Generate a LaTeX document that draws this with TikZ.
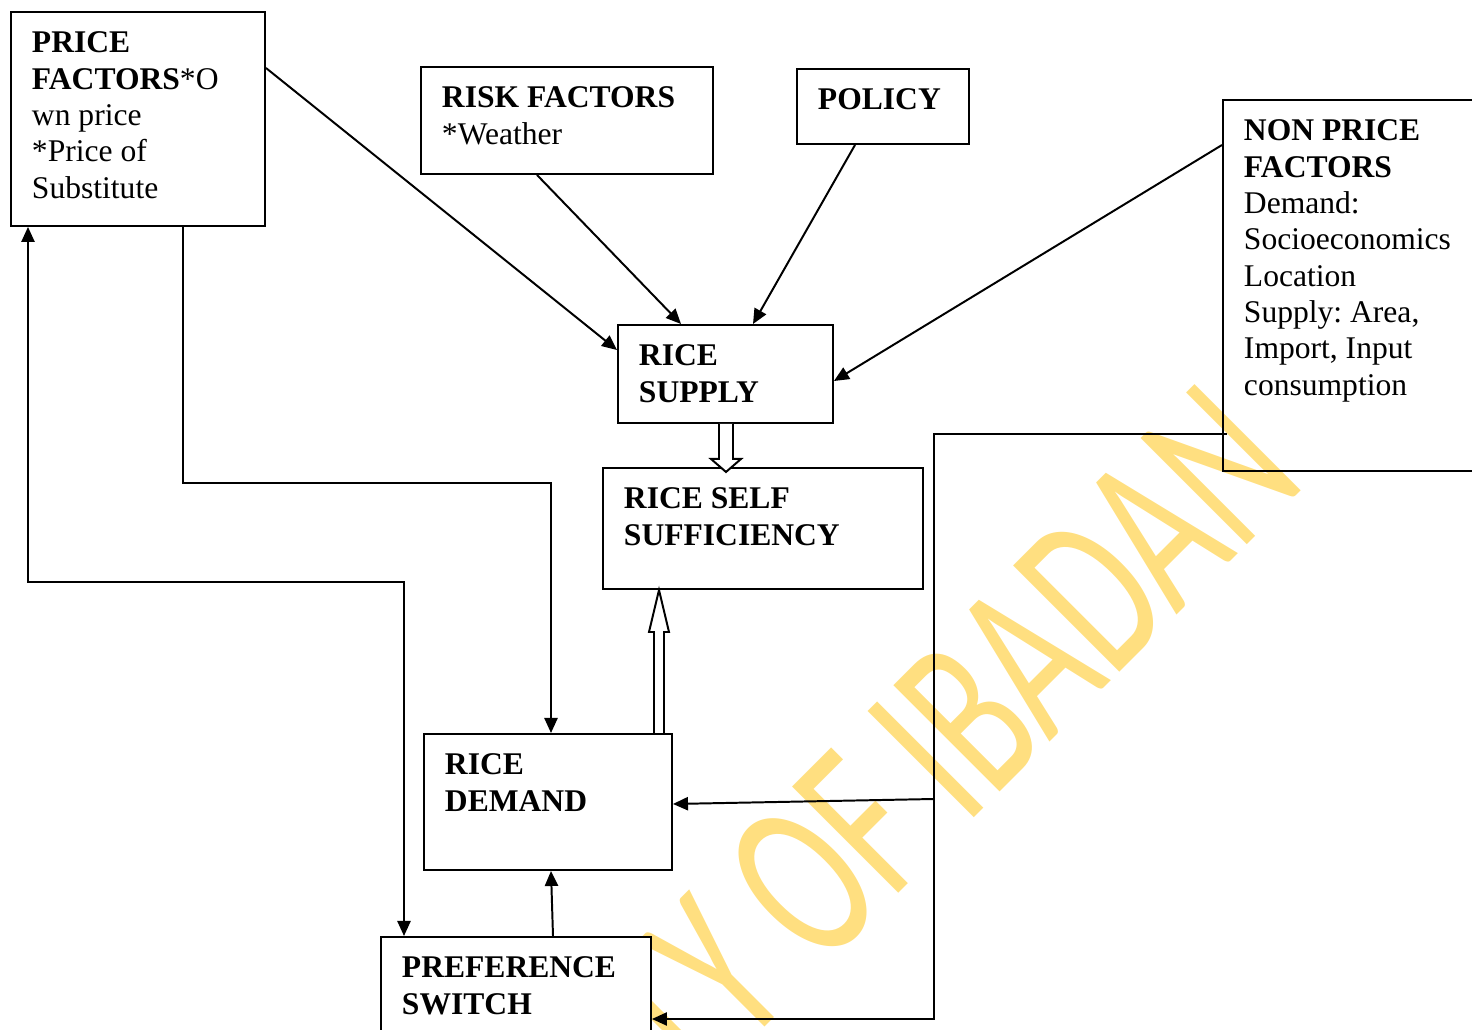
\documentclass[tikz,border=0pt]{standalone}
\usepackage{fontspec}
\setmainfont{Liberation Serif}
\newfontfamily\wmfont{Carlito}
\usepackage{tikz}
\usetikzlibrary{arrows.meta,calc}
\definecolor{wmYellow}{HTML}{FFDF80}
\newdimen\pxu \pxu=0.38pt
\frenchspacing
% box text: height, width, lines
\newcommand\boxtext[3]{\parbox[c][#1\pxu][t]{#2\pxu}{\raggedright\leftskip=21\pxu\rule{0pt}{41\pxu}#3}}
\tikzset{
  ricebox/.style={draw, line width=0.75pt, anchor=north west, inner sep=0pt,
                  font=\fontsize{12}{13.8}\selectfont},
  flowarr/.style={-{Triangle[length=5.7pt,width=5pt]}, line width=0.75pt},
  blockarr/.style={draw, line width=0.75pt, fill=white, line join=miter},
}
\begin{document}
\begin{tikzpicture}[x=0.38pt, y=-0.38pt]
  \clip (0,0) rectangle (1472,1030);
  % watermark
  \node[rotate=45, anchor=base east, inner sep=0pt, text=wmYellow,
        font=\wmfont\fontsize{89}{89}\selectfont] (wm) at (1309,483)
        {\scalebox{0.65}[1]{UNIVERSITY OF IBADAN}};

  \node[ricebox] (price) at (10,11)
    {\boxtext{214}{254}{\textbf{PRICE}\\\textbf{FACTORS}*O\\wn price\\{}*Price of\\Substitute}};
  \node[ricebox] (risk) at (420,66) {\boxtext{107}{292}{\textbf{RISK FACTORS}\\{}*Weather}};
  \node[ricebox] (policy) at (796,68) {\boxtext{75}{172}{\textbf{POLICY}}};
  \node[ricebox] (nonprice) at (1222,99)
    {\boxtext{371}{280}{\textbf{NON PRICE}\\\textbf{FACTORS}\\Demand:\\Socioeconomics\\Location\\Supply: Area,\\Import, Input\\consumption}};
  \node[ricebox] (supply) at (617,324) {\boxtext{98}{215}{\textbf{RICE}\\\textbf{SUPPLY}}};
  \node[ricebox] (selfsuff) at (602,467) {\boxtext{121}{320}{\textbf{RICE SELF}\\\textbf{SUFFICIENCY}}};
  \node[ricebox] (demand) at (423,733) {\boxtext{136}{248}{\textbf{RICE}\\\textbf{DEMAND}}};
  \node[ricebox, fill=white] (pref) at (380,936) {\boxtext{130}{270}{\textbf{PREFERENCE}\\\textbf{SWITCH}}};
  \coordinate (trunk) at (934,799);

  % factors into supply
  \draw[flowarr] ($(price.north east)+(0,57)$) -- ($(supply.north west)+(0,26)$);
  \draw[flowarr] ($(risk.south west)+(117,0)$) -- ($(supply.north west)+(64,0)$);
  \draw[flowarr] ($(policy.south west)+(59,0)$) -- ($(supply.north west)+(136,0)$);
  \draw[flowarr] ($(nonprice.north west)+(0,46)$) -- ($(supply.north east)+(0,57)$);

  % block arrows into self sufficiency
  \draw[blockarr] ([shift={(102,0)}]supply.south west) -- ++(0,35) -- ++(-8,0)
    -- ++(15,13) -- ++(15,-13) -- ++(-8,0) -- ++(0,-35);
  \draw[blockarr] ([shift={(231,0)}]demand.north west) -- ++(0,-101) -- ++(-5,0)
    -- ++(10,-42) -- ++(10,42) -- ++(-5,0) -- ++(0,101);

  % price factors loops
  \draw[flowarr] ($(price.south west)+(173,0)$) -- ++(0,256) -| ($(demand.north west)+(128,0)$);
  \draw[flowarr, {Triangle[length=5.7pt,width=5pt]}-{Triangle[length=5.7pt,width=5pt]}]
    ($(price.south west)+(18,0)$) -- ++(0,355) -| ($(pref.north west)+(24,0)$);
  \draw[flowarr] ($(pref.north west)+(173,0)$) -- ($(demand.south west)+(128,0)$);

  % non price factors to demand side
  \draw[flowarr] ($(nonprice.north west)+(5,335)$) -| (trunk) |- ($(pref.north east)+(0,83)$);
  \draw[flowarr] (trunk) -- ($(demand.north east)+(0,71)$);
\end{tikzpicture}
\end{document}
